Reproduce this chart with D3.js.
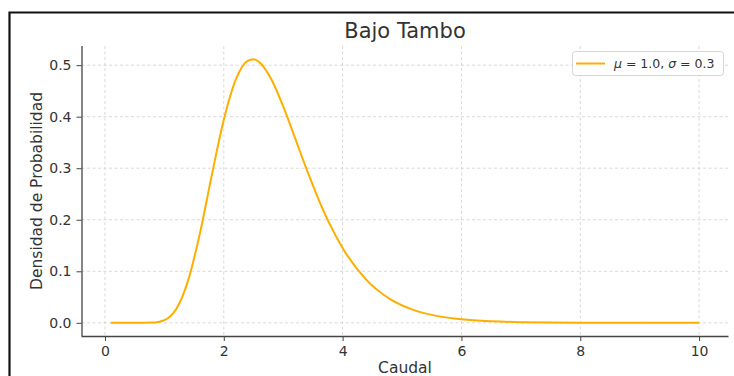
<!DOCTYPE html>
<html>
<head>
<meta charset="utf-8">
<script src="https://cdn.jsdelivr.net/npm/d3@7"></script>
<style>
  html, body { margin: 0; padding: 0; background: #fff; }
  svg { display: block; font-family: "DejaVu Sans", sans-serif; }
</style>
</head>
<body>
<svg id="chart" width="734" height="376"></svg>
<script>
// Caudal values along the x axis
const caudal = [0.1, 0.5, 0.8, 0.9, 1.0, 1.1, 1.2, 1.3, 1.4, 1.6, 1.8, 2.0, 2.2, 2.4, 2.5, 2.6,
                2.8, 3.0, 3.2, 3.4, 3.6, 3.8, 4.0, 4.4, 4.8, 5.2, 5.6, 6.0, 6.5, 7.0, 8.0, 9.0, 10.0];
// Probability density at each caudal value
const densidad = [0.0, 0.0, 0.0004, 0.0017, 0.0051, 0.0128, 0.027, 0.0498, 0.0823, 0.1745, 0.2875,
                  0.394, 0.4715, 0.5084, 0.5116, 0.5058, 0.4726, 0.4199, 0.3584, 0.2961, 0.2383,
                  0.1876, 0.1451, 0.0833, 0.046, 0.0247, 0.013, 0.0068, 0.003, 0.0013, 0.0003, 0.0001, 0.0];
const xTicks = [0, 2, 4, 6, 8, 10];
const yTicks = [0.0, 0.1, 0.2, 0.3, 0.4, 0.5];
const title = "Bajo Tambo";
const xLabel = "Caudal";
const yLabel = "Densidad de Probabilidad";

const svg = d3.select("#chart");
const W = 734, H = 376;
const plot = { left: 81.5, right: 728.5, top: 46, bottom: 336 };
const lineColor = "#ffae00";

// Outer frame
svg.append("path")
  .attr("d", `M9.5,${H} V12.5 H${W}`)
  .attr("fill", "none").attr("stroke", "#111").attr("stroke-width", 2.2);

// Scales with a 5% margin around the data range
const xExt = d3.extent(caudal), xPad = (xExt[1] - xExt[0]) * 0.05;
const yMax = d3.max(densidad), yPad = yMax * 0.05;
const x = d3.scaleLinear().domain([xExt[0] - xPad, xExt[1] + xPad]).range([plot.left, plot.right]);
const y = d3.scaleLinear().domain([-yPad, yMax + yPad]).range([plot.bottom, plot.top]);

// Grid
const grid = svg.append("g").attr("stroke", "#cfcfcf").attr("stroke-width", 0.8)
  .attr("stroke-dasharray", "3,2.5");
grid.selectAll(".gx").data(xTicks).join("line")
  .attr("x1", d => x(d)).attr("x2", d => x(d)).attr("y1", plot.top).attr("y2", plot.bottom);
grid.selectAll(".gy").data(yTicks).join("line")
  .attr("y1", d => y(d)).attr("y2", d => y(d)).attr("x1", plot.left).attr("x2", plot.right);

// Axes
const xAxis = svg.append("g").attr("transform", `translate(0,${plot.bottom})`)
  .call(d3.axisBottom(x).tickValues(xTicks).tickFormat(d3.format("d")).tickSizeOuter(0).tickSize(5).tickPadding(5));
const yAxis = svg.append("g").attr("transform", `translate(${plot.left},0)`)
  .call(d3.axisLeft(y).tickValues(yTicks).tickFormat(d3.format(".1f")).tickSizeOuter(0).tickSize(5).tickPadding(5));
[xAxis, yAxis].forEach(a => {
  a.select(".domain").attr("stroke", "#444").attr("stroke-width", 1.3);
  a.selectAll(".tick line").attr("stroke", "#444").attr("stroke-width", 1);
  a.selectAll(".tick text").attr("fill", "#333").style("font-size", "14px")
    .style("font-family", "DejaVu Sans, sans-serif");
});
// Spines span the whole plot area
xAxis.select(".domain").attr("d", `M${plot.left},0.5H${plot.right}`);
yAxis.select(".domain").attr("d", `M0.5,${plot.top}V${plot.bottom}`);

// Density curve
const line = d3.line().x((d, i) => x(caudal[i])).y(d => y(d)).curve(d3.curveMonotoneX);
svg.append("path").datum(densidad)
  .attr("d", line).attr("fill", "none").attr("stroke", lineColor).attr("stroke-width", 2);

// Title and axis labels
svg.append("text").attr("x", (plot.left + plot.right) / 2).attr("y", 38)
  .attr("text-anchor", "middle").attr("fill", "#333").style("font-size", "21px").text(title);
svg.append("text").attr("x", (plot.left + plot.right) / 2).attr("y", 373)
  .attr("text-anchor", "middle").attr("fill", "#333").style("font-size", "15.5px").text(xLabel);
svg.append("text").attr("transform", `translate(42,${(plot.top + plot.bottom) / 2}) rotate(-90)`)
  .attr("text-anchor", "middle").attr("fill", "#333").style("font-size", "15.5px").text(yLabel);

// Legend
const leg = svg.append("g");
leg.append("rect").attr("x", 572.5).attr("y", 51.5).attr("width", 151).attr("height", 24)
  .attr("rx", 3).attr("fill", "#fff").attr("fill-opacity", 0.85).attr("stroke", "#d6d6d6");
leg.append("line").attr("x1", 576).attr("x2", 605).attr("y1", 63.5).attr("y2", 63.5)
  .attr("stroke", lineColor).attr("stroke-width", 2);
const lt = leg.append("text").attr("x", 614).attr("y", 68).attr("fill", "#333").style("font-size", "12.5px");
lt.append("tspan").style("font-style", "italic").text("μ");
lt.append("tspan").text(" = 1.0, ");
lt.append("tspan").style("font-style", "italic").text("σ");
lt.append("tspan").text(" = 0.3");
</script>
</body>
</html>
